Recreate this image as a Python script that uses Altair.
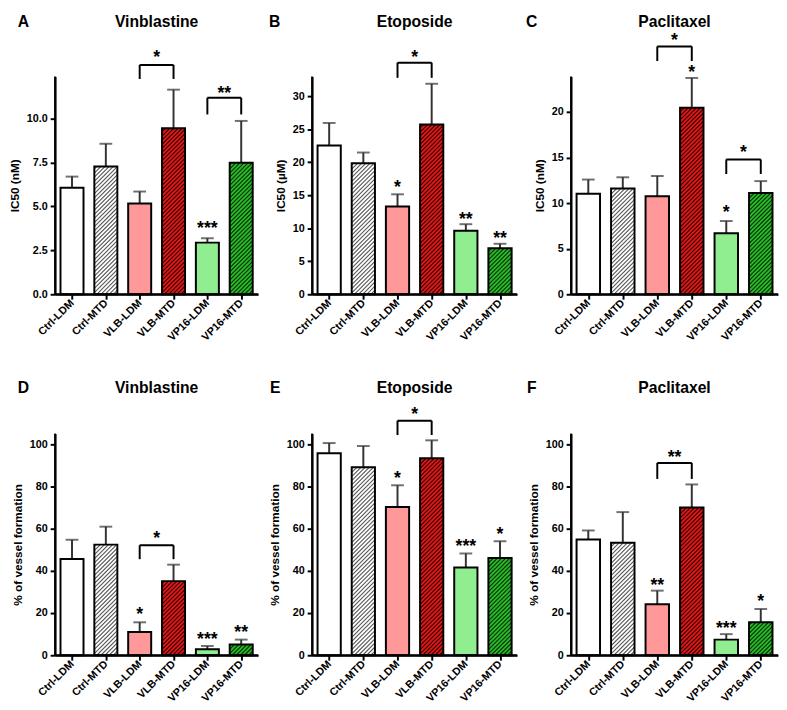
import altair as alt
import pandas as pd

categories = ["Ctrl-LDM", "Ctrl-MTD", "VLB-LDM", "VLB-MTD", "VP16-LDM", "VP16-MTD"]
fill_colors = ["#ffffff", "#ffffff", "#ff9999", "#e01818", "#90ee90", "#2cba2c"]
hatch_colors = [None, "#555555", None, "#300000", None, "#003000"]

letters = ["A", "B", "C", "D", "E", "F"]
titles = ["Vinblastine", "Etoposide", "Paclitaxel", "Vinblastine", "Etoposide", "Paclitaxel"]
y_titles = ["IC50 (nM)", "IC50 (µM)", "IC50 (nM)",
            "% of vessel formation", "% of vessel formation", "% of vessel formation"]
y_max = [12.4, 33.0, 23.9, 105.0, 105.0, 105.0]
y_ticks = [[0, 2.5, 5, 7.5, 10], [0, 5, 10, 15, 20, 25, 30], [0, 5, 10, 15, 20],
           [0, 20, 40, 60, 80, 100], [0, 20, 40, 60, 80, 100], [0, 20, 40, 60, 80, 100]]
y_formats = [".1f", "d", "d", "d", "d", "d"]

# bar means and top of error bars
means = [
    [6.06, 7.28, 5.17, 9.45, 2.94, 7.49],
    [22.55, 19.87, 13.30, 25.72, 9.64, 6.97],
    [11.04, 11.60, 10.76, 20.46, 6.70, 11.11],
    [45.6, 52.4, 11.0, 35.1, 2.8, 5.1],
    [95.7, 89.0, 70.2, 93.3, 41.6, 46.1],
    [54.8, 53.3, 24.2, 70.0, 7.4, 15.6],
]
uppers = [
    [6.70, 8.57, 5.85, 11.65, 3.19, 9.87],
    [25.96, 21.48, 15.15, 31.90, 10.62, 7.65],
    [12.59, 12.84, 12.98, 23.74, 8.04, 12.42],
    [54.7, 60.9, 15.6, 42.9, 4.4, 7.4],
    [100.5, 99.1, 80.5, 101.8, 48.2, 54.0],
    [59.1, 67.8, 30.6, 80.9, 10.0, 21.9],
]
# significance stars above single bars: (bar index, y, text)
stars = [
    [(4, 3.94, "***")],
    [(2, 16.7, "*"), (4, 11.8, "**"), (5, 8.9, "**")],
    [(3, 24.7, "*"), (4, 9.35, "*")],
    [(2, 21.0, "*"), (4, 9.2, "***"), (5, 12.3, "**")],
    [(2, 85.2, "*"), (4, 53.3, "***"), (5, 58.6, "*")],
    [(2, 34.8, "**"), (4, 14.1, "***"), (5, 26.8, "*")],
]
# brackets: (from bar, to bar, top y, leg bottom y, label y, text)
brackets = [
    [(2, 3, 13.06, 12.26, 13.67, "*"), (4, 5, 11.19, 10.24, 11.65, "**")],
    [(2, 3, 35.1, 32.8, 36.4, "*")],
    [(2, 3, 27.2, 25.6, 28.2, "*"), (4, 5, 14.8, 13.2, 15.9, "*")],
    [(2, 3, 52.1, 45.5, 56.7, "*")],
    [(2, 3, 111.1, 104.3, 115.7, "*")],
    [(2, 3, 91.1, 83.5, 95.3, "**")],
]

col_widths = [207, 209, 211]
row_heights = [222, 226]
letter_dx = [-38, -44, -46, -38, -43, -45]
head_dy = [-55, -55, -55, -46, -46, -46]

FONT = "Liberation Sans"
PAD = 0.16          # empty share of each category slot on either side of a bar
HATCH_PERIOD = 4.2  # px between hatch lines (horizontal)
N = len(categories)


def hatch_segments(vals, W, H, ymax):
    step = W / N
    bw = (1 - 2 * PAD) * step
    rows = []
    for i, (v, hc) in enumerate(zip(vals, hatch_colors)):
        if hc is None:
            continue
        h = v / ymax * H
        c = -bw
        while c < h:
            xs = max(0.0, -c)
            xe = min(bw, h - c)
            if xe > xs:
                rows.append(dict(hx=i + PAD + xs / step, hx2=i + PAD + xe / step,
                                 hy=(xs + c) * ymax / H, hy2=(xe + c) * ymax / H, hc=hc))
            c += HATCH_PERIOD
    return pd.DataFrame(rows)


label_expr = "[" + ",".join("'%s'" % c for c in categories) + "][round(datum.value - 0.5)]"


def panel(p):
    W = col_widths[p % 3]
    H = row_heights[p // 3]
    ymax = y_max[p]
    df = pd.DataFrame({"cat": categories, "idx": list(range(N)),
                       "mean": means[p], "upper": uppers[p], "fill": fill_colors})
    df["xc"] = df["idx"] + 0.5
    df["xl"] = df["idx"] + PAD
    df["xr"] = df["idx"] + 1 - PAD
    df["zero"] = 0.0

    xsc = alt.Scale(domain=[0, N], nice=False, zero=False, padding=0)
    ysc = alt.Scale(domain=[0, ymax], nice=False, zero=True, padding=0)

    x_axis = alt.Axis(title=None, values=[i + 0.5 for i in range(N)], labelExpr=label_expr,
                      labelAngle=-45, labelAlign="right", labelBaseline="middle",
                      labelFontSize=11, labelFontWeight="bold", labelColor="black", labelFont=FONT,
                      labelPadding=2, tickSize=5, tickWidth=2, tickColor="black",
                      domain=True, domainWidth=2, domainColor="black", domainOpacity=1,
                      labelOverlap=False, labelBound=False, labelFlush=False, grid=False)
    y_axis = alt.Axis(title=y_titles[p], values=y_ticks[p], format=y_formats[p], grid=False,
                      titleFontSize=12, titleFontWeight="bold", titleColor="black", titleFont=FONT,
                      labelFontSize=11, labelFontWeight="bold", labelColor="black", labelFont=FONT,
                      labelPadding=3, titlePadding=5, tickSize=5, tickWidth=2, tickColor="black",
                      domain=True, domainWidth=2, domainColor="black", domainOpacity=1)

    def X(f):
        return alt.X(f, scale=xsc, axis=x_axis)

    def Y(f):
        return alt.Y(f, scale=ysc, axis=y_axis)

    base = alt.Chart(df)
    fill = base.mark_bar(strokeWidth=0).encode(
        x=X("xl:Q"), x2="xr:Q", y=Y("mean:Q"), y2="zero:Q",
        color=alt.Color("fill:N", scale=None))
    hatch = alt.Chart(hatch_segments(means[p], W, H, ymax)).mark_rule(strokeWidth=1.1).encode(
        x=X("hx:Q"), x2="hx2:Q", y=Y("hy:Q"), y2="hy2:Q", color=alt.Color("hc:N", scale=None))
    err = base.mark_rule(color="#333333", strokeWidth=2).encode(
        x=X("xc:Q"), y=Y("mean:Q"), y2="upper:Q")
    cap = base.mark_tick(color="#333333", thickness=2, size=13, orient="horizontal").encode(
        x=X("xc:Q"), y=Y("upper:Q"))
    outline = base.mark_bar(fillOpacity=0, stroke="black", strokeWidth=2).encode(
        x=X("xl:Q"), x2="xr:Q", y=Y("mean:Q"), y2="zero:Q")

    # axis lines (drawn as rules along the scale extents)
    adf = pd.DataFrame({"x0": [0.0], "x1": [float(N)], "y0": [0.0], "y1": [ymax]})
    xline = alt.Chart(adf).mark_rule(color="black", strokeWidth=2).encode(
        x=X("x0:Q"), x2="x1:Q", y=Y("y0:Q"))
    yline = alt.Chart(adf).mark_rule(color="black", strokeWidth=2).encode(
        x=X("x0:Q"), y=Y("y0:Q"), y2="y1:Q")

    sdf = pd.DataFrame([{"sx": i + 0.5, "sy": y, "t": t} for i, y, t in stars[p]])
    star = alt.Chart(sdf).mark_text(fontSize=18, fontWeight="bold", font=FONT, baseline="middle",
                                    dy=4, color="black").encode(
        x=X("sx:Q"), y=Y("sy:Q"), text="t:N")

    segs, labs = [], []
    for i, j, top, leg, ly, t in brackets[p]:
        ci, cj = i + 0.5, j + 0.5
        segs += [dict(bx=ci, bx2=cj, by=top, by2=top),
                 dict(bx=ci, bx2=ci, by=top, by2=leg),
                 dict(bx=cj, bx2=cj, by=top, by2=leg)]
        labs.append(dict(bx=(ci + cj) / 2, by=ly, t=t))
    br = alt.Chart(pd.DataFrame(segs)).mark_rule(color="black", strokeWidth=2).encode(
        x=X("bx:Q"), x2="bx2:Q", y=Y("by:Q"), y2="by2:Q")
    brl = alt.Chart(pd.DataFrame(labs)).mark_text(fontSize=18, fontWeight="bold", font=FONT,
                                                   baseline="middle", dy=4, color="black").encode(
        x=X("bx:Q"), y=Y("by:Q"), text="t:N")

    letter = alt.Chart(pd.DataFrame({"t": [letters[p]]})).mark_text(
        fontSize=16, fontWeight="bold", font=FONT, align="left", baseline="middle",
        color="black").encode(x=alt.value(letter_dx[p]), y=alt.value(head_dy[p]), text="t:N")
    title = alt.Chart(pd.DataFrame({"t": [titles[p]]})).mark_text(
        fontSize=16, fontWeight="bold", font=FONT, align="center", baseline="middle",
        color="black").encode(x=alt.value(W / 2), y=alt.value(head_dy[p]), text="t:N")

    return alt.layer(fill, hatch, err, cap, outline, xline, yline, star, br, brl,
                     letter, title).properties(width=W, height=H)


chart = alt.concat(*[panel(p) for p in range(6)], columns=3,
                   spacing=alt.RowColnumber(row=142, column=55),
                   bounds="flush", align="each").properties(padding=0)
chart = chart.configure(font=FONT).configure_view(stroke=None)

chart.save("out.html", embed_options={"renderer": "svg", "actions": False})
